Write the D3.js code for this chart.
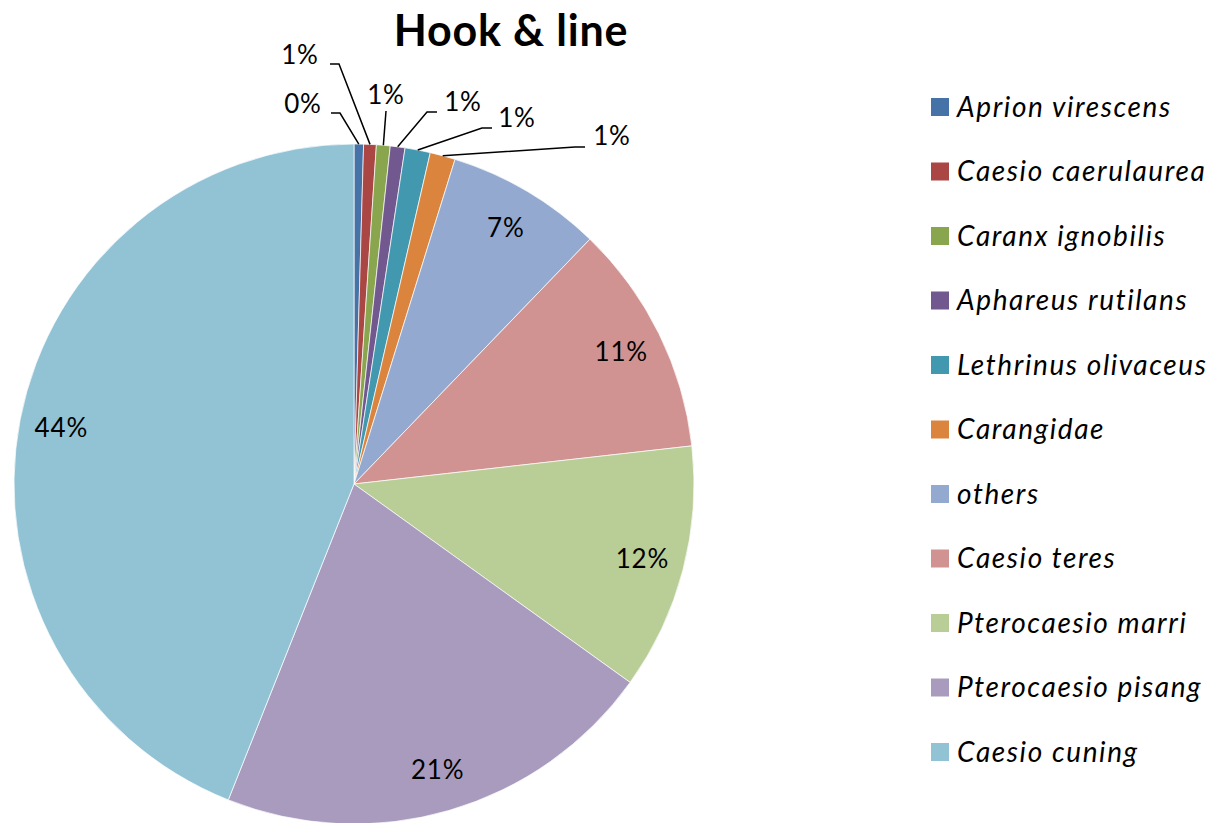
<!DOCTYPE html>
<html><head><meta charset="utf-8">
<script src="https://cdn.jsdelivr.net/npm/d3@7"></script>
<style>body{margin:0;background:#fff}svg{display:block}</style>
</head><body>
<svg id="c" width="1208" height="823"></svg>
<script>
const categories = ["Aprion virescens","Caesio caerulaurea","Caranx ignobilis","Aphareus rutilans","Lethrinus olivaceus","Carangidae","others","Caesio teres","Pterocaesio marri","Pterocaesio pisang","Caesio cuning"];
const values = [0.45,0.6,0.65,0.7,1.2,1.2,7.4,11.0,11.7,21.1,43.95];
const colors = ["#4572A7","#AA4643","#89A54E","#71588F","#4198AF","#DB843D","#93A9CF","#D19392","#B9CD96","#A99BBD","#91C3D5"];
const title = "Hook & line";
// callout label layout for the small slices (label centre, elbow end)
const callouts = [
  {i:0, lx:303, ly:104, ex:340, ey:113},
  {i:1, lx:300, ly:55,  ex:339, ey:64},
  {i:2, lx:386, ly:95,  ex:386, ey:111},
  {i:3, lx:463, ly:102, ex:427, ey:112},
  {i:4, lx:517, ly:118, ex:482, ey:128},
  {i:5, lx:612, ly:136, ex:575, ey:147}
];

const svg = d3.select("#c");
const cx = 354, cy = 484, R = 340;
const font = "Lato, 'Liberation Sans', sans-serif";
const total = d3.sum(values);
const pct = v => Math.round(v / total * 100) + "%";

const pie = d3.pie().sort(null).value(d => d)(values);
const arc = d3.arc().innerRadius(0).outerRadius(R);
const labelArc = d3.arc().innerRadius(298).outerRadius(298);
const edgeArc = d3.arc().innerRadius(R).outerRadius(R);

const g = svg.append("g").attr("transform", `translate(${cx},${cy})`);
g.selectAll("path").data(pie).join("path")
  .attr("d", arc).attr("fill", (d,i) => colors[i])
  .attr("stroke", "#fff").attr("stroke-width", 0.7);

g.selectAll("text.in").data(pie.filter(d => d.index >= 6)).join("text")
  .attr("class","in")
  .attr("transform", d => `translate(${labelArc.centroid(d)})`)
  .attr("text-anchor","middle").attr("dy","0.35em")
  .attr("font-family", font).attr("font-size", 26).attr("letter-spacing", 0.8).attr("fill","#000")
  .text(d => pct(d.value));

callouts.forEach(c => {
  const d = pie[c.i];
  const [px, py] = edgeArc.centroid(d);
  const line = c.ex === c.lx
    ? [[c.ex - cx, c.ey - cy], [px, py]]
    : [[(c.ex > c.lx ? c.ex - 9 : c.ex + 10) - cx, c.ey - cy], [c.ex - cx, c.ey - cy], [px, py]];
  g.append("path").attr("d", d3.line()(line))
    .attr("fill","none").attr("stroke","#000").attr("stroke-width",1.5);
  svg.append("text").attr("x", c.lx).attr("y", c.ly).attr("dy","0.35em")
    .attr("text-anchor","middle").attr("font-family", font).attr("font-size", 26).attr("letter-spacing", 0.8)
    .text(pct(d.value));
});

svg.append("text").attr("x", 511).attr("y", 31).attr("dy","0.35em")
  .attr("text-anchor","middle").attr("font-family", font).attr("font-weight","bold")
  .attr("font-size", 43).attr("letter-spacing", 0.8).text(title);

const y = d3.scalePoint().domain(categories).range([107, 752]);
const lg = svg.append("g");
lg.selectAll("rect").data(categories).join("rect")
  .attr("x", 931).attr("y", d => y(d) - 9).attr("width", 18).attr("height", 18)
  .attr("fill", (d,i) => colors[i]);
lg.selectAll("text").data(categories).join("text")
  .attr("x", 957).attr("y", d => y(d)).attr("dy","0.35em")
  .attr("font-family", font).attr("font-style","italic").attr("font-size", 28).attr("letter-spacing", 1.6)
  .text(d => d);
</script>
</body></html>
